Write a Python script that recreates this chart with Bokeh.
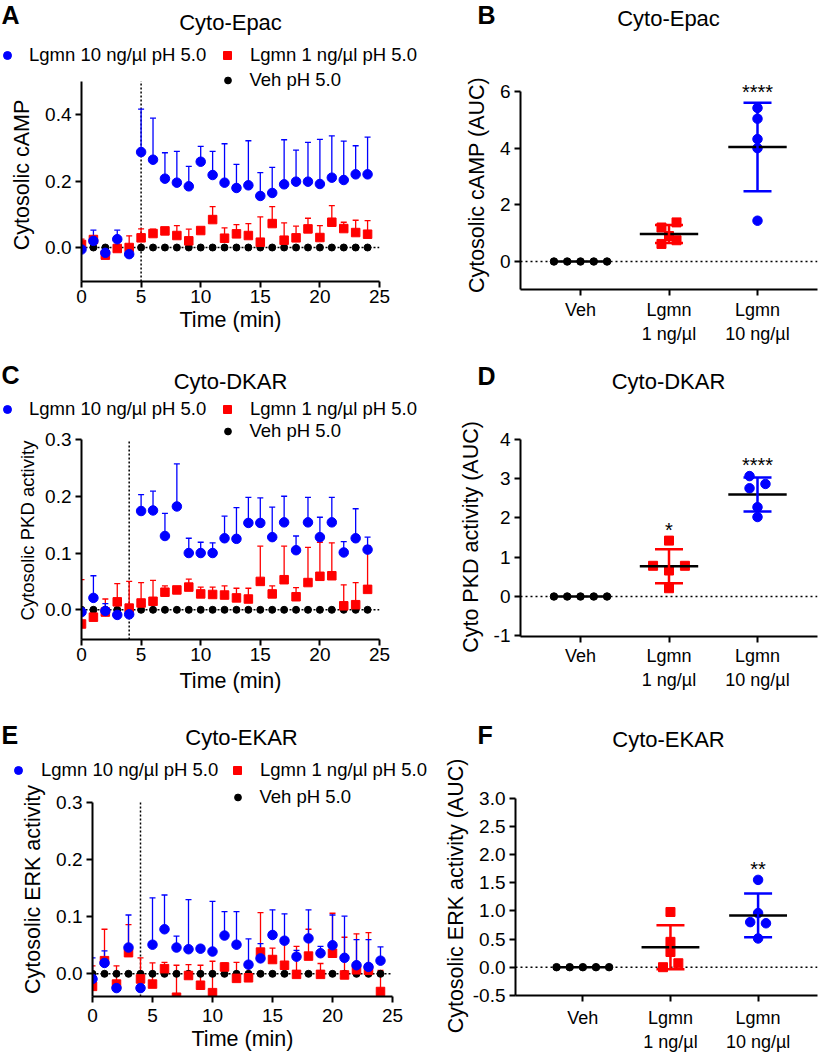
import numpy as np
from bokeh.plotting import figure
from bokeh.models import (ColumnDataSource, Whisker, TeeHead, Span, Label, Legend,
                          LegendItem, FixedTicker, PrintfTickFormatter, Range1d)
from bokeh.core.properties import value
from bokeh.layouts import column, row
from bokeh.embed import file_html
from bokeh.resources import INLINE

FONT = "Liberation Sans"
BLUE = "#0000ff"
RED = "#ff0000"
BLACK = "#000000"

# ---------------- data: time courses ----------------
TIME_MIN = [0, 1, 2, 3, 4, 5, 6, 7, 8, 9, 10, 11, 12, 13, 14, 15, 16, 17, 18, 19, 20, 21, 22, 23, 24]
VEH_TIME = [0.0, 0.0, 0.0, 0.0, 0.0, 0.0, 0.0, 0.0, 0.0, 0.0, 0.0, 0.0, 0.0,
            0.0, 0.0, 0.0, 0.0, 0.0, 0.0, 0.0, 0.0, 0.0, 0.0, 0.0, 0.0]

EPAC_10 = [-0.006, 0.020, -0.016, 0.025, -0.020, 0.287, 0.264, 0.207, 0.195, 0.184, 0.258, 0.218, 0.195,
           0.179, 0.187, 0.155, 0.164, 0.190, 0.198, 0.198, 0.191, 0.210, 0.203, 0.220, 0.220]
EPAC_10_UP = [0.000, 0.052, -0.010, 0.052, -0.012, 0.416, 0.389, 0.285, 0.289, 0.244, 0.304, 0.289, 0.312,
              0.250, 0.321, 0.225, 0.241, 0.324, 0.293, 0.316, 0.325, 0.336, 0.320, 0.306, 0.332]
EPAC_1 = [0.009, 0.024, -0.023, -0.003, 0.000, 0.029, 0.042, 0.050, 0.036, 0.020, 0.051, 0.084, 0.028,
          0.041, 0.036, 0.016, 0.072, 0.022, 0.029, 0.056, 0.030, 0.076, 0.057, 0.045, 0.040]
EPAC_1_UP = [0.025, 0.030, -0.015, 0.003, 0.035, 0.056, 0.055, 0.055, 0.066, 0.055, 0.055, 0.123, 0.059,
             0.069, 0.072, 0.092, 0.123, 0.074, 0.064, 0.088, 0.066, 0.126, 0.076, 0.082, 0.081]

DKAR_10 = [-0.004, 0.021, -0.002, -0.009, -0.008, 0.174, 0.175, 0.130, 0.182, 0.100, 0.100, 0.100, 0.126,
           0.125, 0.153, 0.153, 0.128, 0.154, 0.105, 0.154, 0.128, 0.154, 0.101, 0.126, 0.106]
DKAR_10_UP = [0.000, 0.060, 0.011, -0.004, -0.004, 0.203, 0.209, 0.170, 0.257, 0.126, 0.119, 0.118, 0.165,
              0.180, 0.198, 0.197, 0.181, 0.200, 0.130, 0.198, 0.163, 0.198, 0.120, 0.178, 0.128]
DKAR_1 = [-0.025, -0.013, -0.004, 0.014, 0.003, 0.012, 0.015, 0.031, 0.035, 0.040, 0.028, 0.027, 0.026,
          0.021, 0.019, 0.050, 0.028, 0.053, 0.023, 0.048, 0.059, 0.060, 0.007, 0.009, 0.036]
DKAR_1_UP = [0.053, -0.005, 0.019, 0.046, 0.050, 0.048, 0.052, 0.042, 0.040, 0.054, 0.040, 0.040, 0.042,
             0.038, 0.038, 0.112, 0.042, 0.112, 0.039, 0.110, 0.119, 0.118, 0.044, 0.048, 0.113]

EKAR_10 = [-0.009, 0.019, -0.025, 0.046, -0.025, 0.051, 0.078, 0.046, 0.043, 0.044, 0.039, 0.067, 0.051,
           0.016, 0.027, 0.068, 0.058, 0.030, 0.062, 0.036, 0.050, 0.028, 0.015, 0.012, 0.023]
EKAR_10_UP = [0.028, 0.040, -0.018, 0.103, -0.018, 0.133, 0.138, 0.066, 0.130, 0.048, 0.127, 0.109, 0.109,
              0.061, 0.053, 0.112, 0.105, 0.041, 0.112, 0.048, 0.103, 0.101, 0.060, 0.060, 0.047]
EKAR_1 = [-0.022, 0.023, -0.018, 0.037, -0.009, -0.018, 0.009, -0.041, -0.003, -0.020, -0.033, 0.012, -0.008,
          -0.007, 0.038, 0.025, 0.015, -0.001, 0.031, -0.001, 0.036, -0.002, 0.007, 0.006, -0.031]
EKAR_1_UP = [0.014, 0.078, 0.014, 0.086, 0.028, 0.019, 0.020, 0.015, 0.016, 0.015, 0.022, 0.019, 0.020,
             0.018, 0.107, 0.045, 0.053, 0.048, 0.078, 0.018, 0.106, 0.064, 0.070, 0.072, 0.006]

# ---------------- data: AUC ----------------
GROUP_POS = [1, 2, 3]
GROUP_LABELS = ["Veh", "Lgmn\n1 ng/µl", "Lgmn\n10 ng/µl"]
VEH_AUC = [0.0, 0.0, 0.0, 0.0, 0.0]
VEH_JIT = [-0.3, -0.15, 0.0, 0.15, 0.3]

EPAC_AUC_1 = [1.20, 1.38, 0.62, 0.75, 0.90]
EPAC_AUC_1_JIT = [-0.085, 0.085, -0.085, 0.085, 0.0]
EPAC_AUC_10 = [5.42, 5.04, 4.32, 4.00, 1.44]
EPAC_AUC_10_JIT = [0.0, 0.0, 0.0, 0.0, 0.0]
EPAC_SIG = ["", "", "****"]

DKAR_AUC_1 = [1.42, 0.78, 0.78, 0.66, 0.21]
DKAR_AUC_1_JIT = [0.0, -0.18, 0.18, 0.0, 0.0]
DKAR_AUC_10 = [3.06, 2.75, 2.86, 2.27, 2.02]
DKAR_AUC_10_JIT = [-0.09, -0.09, 0.09, 0.0, 0.0]
DKAR_SIG = ["", "*", "****"]

EKAR_AUC_1 = [0.98, 0.45, 0.27, 0.00, 0.07]
EKAR_AUC_1_JIT = [0.0, 0.0, 0.0, -0.085, 0.09]
EKAR_AUC_10 = [1.55, 0.96, 0.80, 0.78, 0.51]
EKAR_AUC_10_JIT = [0.0, 0.0, -0.09, 0.09, 0.0]
EKAR_SIG = ["", "", "**"]

LEG_10 = "Lgmn 10 ng/µl pH 5.0"
LEG_1 = "Lgmn 1 ng/µl pH 5.0"
LEG_VEH = "Veh pH 5.0"

# ---------------- layout geometry (page px) ----------------
# Ft/Fb = frame top/bottom, p0 = pixel of value 0, ppu = pixels per unit, ytop = top of y axis line
LW, RW = 440, 379
PA = dict(ox=0, oy=68, W=LW, H=284, L=81, R=379, Ft=68, Fb=281, p0=247.0, ppu=332.5, ytop=0.5)
PC = dict(ox=0, oy=421, W=LW, H=284, L=81, R=379, Ft=421, Fb=639, p0=609.3, ppu=567.7, ytop=0.3)
PE = dict(ox=0, oy=782, W=LW, H=274, L=92, R=392, Ft=782, Fb=996, p0=973.3, ppu=571.0, ytop=0.3)
PB = dict(ox=LW, oy=40, W=RW, H=312, L=520, R=817, Ft=80, Fb=289, p0=261.0, ppu=28.33, ytop=6.0)
PD = dict(ox=LW, oy=402, W=RW, H=303, L=520, R=817, Ft=437, Fb=636, p0=596.0, ppu=39.35, ytop=4.0)
PF = dict(ox=LW, oy=757, W=RW, H=299, L=512, R=817, Ft=796, Fb=995, p0=966.7, ppu=56.33, ytop=3.0)
HA = dict(ox=0, oy=0, W=LW, H=68)
HC = dict(ox=0, oy=352, W=LW, H=69)
HE = dict(ox=0, oy=705, W=LW, H=77)
HB = dict(ox=LW, oy=0, W=RW, H=40)
HD = dict(ox=LW, oy=352, W=RW, H=50)
HF = dict(ox=LW, oy=705, W=RW, H=52)
BASELINE_FIX = 8  # Bokeh draws alphabetic-baseline labels a few px lower than requested


def make_fig(g, x_range):
    y0 = (g["p0"] - g["Fb"]) / g["ppu"]
    y1 = (g["p0"] - g["Ft"]) / g["ppu"]
    p = figure(width=g["W"], height=g["H"], x_range=x_range, y_range=Range1d(y0, y1),
               output_backend="svg", toolbar_location=None,
               min_border_left=g["L"] - g["ox"], min_border_right=g["ox"] + g["W"] - g["R"],
               min_border_top=g["Ft"] - g["oy"], min_border_bottom=g["oy"] + g["H"] - g["Fb"])
    p.outline_line_color = None
    p.xgrid.visible = False
    p.ygrid.visible = False
    for ax in p.axis:
        ax.axis_line_width = 2
        ax.axis_line_color = BLACK
        ax.major_tick_line_width = 2
        ax.major_tick_line_color = BLACK
        ax.major_tick_out = 6
        ax.major_tick_in = 0
        ax.minor_tick_line_color = None
        ax.major_label_text_font = FONT
        ax.major_label_text_font_size = "19px"
        ax.major_label_text_color = BLACK
        ax.axis_label_text_font = FONT
        ax.axis_label_text_font_style = "normal"
        ax.axis_label_text_font_size = "21.5px"
        ax.axis_label_text_color = BLACK
    p.yaxis.bounds = (y0, g["ytop"])
    return p, y0


def legend_item(p, renderer, label, gx, tx, cy, frame_left, frame_bottom, gw=20):
    standoff = int(round(tx - gx - gw / 2))
    lg = Legend(items=[LegendItem(label=value(label), renderers=[renderer])],
                location=(gx - gw / 2 - frame_left, frame_bottom - cy - 12),
                orientation="horizontal", glyph_width=gw, glyph_height=24, label_height=24,
                label_standoff=standoff, padding=0, margin=0, spacing=0,
                border_line_color=None, background_fill_alpha=0, inactive_fill_alpha=0,
                label_text_font=FONT, label_text_font_size="18.5px", label_text_color=BLACK)
    p.add_layout(lg)


def header(h, texts, legs=None, series=None):
    ox, oy, W, H = h["ox"], h["oy"], h["W"], h["H"]
    p = figure(width=W, height=H, x_range=Range1d(ox, ox + W), y_range=Range1d(oy + H, oy),
               output_backend="svg", toolbar_location=None, title=None,
               x_axis_location=None, y_axis_location=None,
               min_border_left=0, min_border_right=0, min_border_top=0, min_border_bottom=0)
    p.outline_line_color = None
    p.grid.visible = False
    for (t, x, y, size, bold, align) in texts:
        p.add_layout(Label(x=x, y=y - BASELINE_FIX, text=t, text_font=FONT, text_font_size=size,
                           text_font_style="bold" if bold else "normal", text_align=align,
                           text_baseline="alphabetic", text_color=BLACK))
    if legs is not None:
        blue, red = series
        # legend-only renderers (hidden; the visible series live in the panel below)
        rb = p.scatter(TIME_MIN, blue, marker="circle", size=9, color=BLUE, visible=False)
        rr = p.scatter(TIME_MIN, red, marker="square", size=8, color=RED, visible=False)
        (bx, btx, rx, rtx, cy) = legs
        legend_item(p, rb, LEG_10, bx, btx, cy, ox, oy + H)
        legend_item(p, rr, LEG_1, rx, rtx, cy, ox, oy + H)
    return p


def time_panel(g, yticks, ylabel, ylabel_size, ylabel_standoff, vline, blue, blue_up, red, red_up,
               veh_leg, tick_standoff, label_standoff):
    p, y0 = make_fig(g, Range1d(0, 25))
    p.xaxis.ticker = FixedTicker(ticks=[0, 5, 10, 15, 20, 25])
    p.yaxis.ticker = FixedTicker(ticks=yticks)
    p.yaxis.formatter = PrintfTickFormatter(format="%.1f")
    p.xaxis.axis_label = "Time (min)"
    p.yaxis.axis_label = ylabel
    p.yaxis.axis_label_text_font_size = ylabel_size
    p.xaxis.major_label_standoff = tick_standoff
    p.xaxis.axis_label_standoff = label_standoff
    p.yaxis.major_label_standoff = 4
    p.yaxis.axis_label_standoff = ylabel_standoff

    p.add_layout(Span(location=0, dimension="width", line_dash="2 2", line_width=1.5,
                      line_color=BLACK, level="underlay"))
    p.segment(x0=[vline], x1=[vline], y0=[y0], y1=[g["ytop"]], line_dash="2 2",
              line_width=1.5, line_color=BLACK, level="underlay")

    sb = ColumnDataSource(dict(x=TIME_MIN, y=blue, up=blue_up))
    sr = ColumnDataSource(dict(x=TIME_MIN, y=red, up=red_up))
    sv = ColumnDataSource(dict(x=TIME_MIN, y=VEH_TIME))
    for src, c in ((sr, RED), (sb, BLUE)):
        p.add_layout(Whisker(source=src, base="x", lower="y", upper="up", dimension="height",
                             line_color=c, line_width=1.3, lower_head=None,
                             upper_head=TeeHead(size=6, line_color=c, line_width=1.3),
                             level="underlay"))
    rv = p.scatter("x", "y", source=sv, marker="circle", size=7, color=BLACK)
    p.scatter("x", "y", source=sr, marker="square", size=8.5, color=RED)
    p.scatter("x", "y", source=sb, marker="circle", size=9.5, color=BLUE)

    gx, tx, cy = veh_leg
    legend_item(p, rv, LEG_VEH, gx, tx, cy, g["L"], g["Fb"], gw=17)
    return p


def auc_panel(g, yticks, fmt, ylabel, ylabel_standoff, d1, j1, d10, j10, sig, x_standoff):
    xr0 = 1 - (580 - g["L"]) / 88.5
    xr1 = 3 + (g["R"] - 757) / 88.5
    p, y0 = make_fig(g, Range1d(xr0, xr1))
    p.xaxis.ticker = FixedTicker(ticks=GROUP_POS)
    p.xaxis.major_label_overrides = {pos: lab for pos, lab in zip(GROUP_POS, GROUP_LABELS)}
    p.xaxis.major_label_text_font_size = "18px"
    p.xaxis.major_label_standoff = x_standoff
    p.yaxis.ticker = FixedTicker(ticks=yticks)
    p.yaxis.formatter = PrintfTickFormatter(format=fmt)
    p.yaxis.axis_label = ylabel
    p.yaxis.major_label_standoff = 4
    p.yaxis.axis_label_standoff = ylabel_standoff

    p.add_layout(Span(location=0, dimension="width", line_dash="2 3", line_width=1.5,
                      line_color=BLACK, level="underlay"))

    groups = [VEH_AUC, d1, d10]
    jits = [VEH_JIT, j1, j10]
    colors = [BLACK, RED, BLUE]
    markers = ["circle", "square", "circle"]
    sizes = [7.5, 9, 9.5]
    for pos, vals, jit, c, m, s, st in zip(GROUP_POS, groups, jits, colors, markers, sizes, sig):
        xs = [pos + j for j in jit]
        mean = float(np.mean(vals))
        sd = float(np.std(vals, ddof=1))
        p.scatter(xs, vals, marker=m, size=s, color=c)
        if sd > 0:
            ws = ColumnDataSource(dict(x=[pos], lo=[mean - sd], hi=[mean + sd]))
            p.add_layout(Whisker(source=ws, base="x", lower="lo", upper="hi", dimension="height",
                                 line_color=c, line_width=2.5,
                                 upper_head=TeeHead(size=28, line_color=c, line_width=2.5),
                                 lower_head=TeeHead(size=28, line_color=c, line_width=2.5),
                                 level="annotation"))
        p.segment(x0=[pos - 0.33], x1=[pos + 0.33], y0=[mean], y1=[mean],
                  line_color=BLACK, line_width=2.5)
        if st:
            top = max(max(vals), mean + sd)
            p.add_layout(Label(x=pos, y=top, y_offset=11, text=st, text_font=FONT,
                               text_font_size="20px", text_align="center",
                               text_baseline="alphabetic", text_color=BLACK))
    return p


hA = header(HA, [("A", 1, 22, "25px", True, "left"),
                 ("Cyto-Epac", 230, 30, "22px", False, "center")],
            (7, 29, 227, 250, 55), (EPAC_10, EPAC_1))
hB = header(HB, [("B", 477, 22, "25px", True, "left"),
                 ("Cyto-Epac", 668, 26, "22px", False, "center")])
hC = header(HC, [("C", 1, 382, "25px", True, "left"),
                 ("Cyto-DKAR", 230, 389, "22px", False, "center")],
            (7, 29, 227, 250, 409), (DKAR_10, DKAR_1))
hD = header(HD, [("D", 477, 383, "25px", True, "left"),
                 ("Cyto-DKAR", 668, 389, "22px", False, "center")])
hE = header(HE, [("E", 1, 742, "25px", True, "left"),
                 ("Cyto-EKAR", 241, 745, "22px", False, "center")],
            (18, 41, 237, 260, 770), (EKAR_10, EKAR_1))
hF = header(HF, [("F", 477, 742, "25px", True, "left"),
                 ("Cyto-EKAR", 668, 747, "22px", False, "center")])

pA = time_panel(PA, [0.0, 0.2, 0.4], "Cytosolic cAMP", "21.5px", 8, 5,
                EPAC_10, EPAC_10_UP, EPAC_1, EPAC_1_UP, (227, 250, 80), 2, 2)
pC = time_panel(PC, [0.0, 0.1, 0.2, 0.3], "Cytosolic PKD activity", "18.5px", 4, 4,
                DKAR_10, DKAR_10_UP, DKAR_1, DKAR_1_UP, (227, 250, 431), 2, 5)
pE = time_panel(PE, [0.0, 0.1, 0.2, 0.3], "Cytosolic ERK activity", "21.5px", 8, 4,
                EKAR_10, EKAR_10_UP, EKAR_1, EKAR_1_UP, (237, 260, 797), 6, 2)
pB = auc_panel(PB, [0, 2, 4, 6], "%d", "Cytosolic cAMP (AUC)", 8,
               EPAC_AUC_1, EPAC_AUC_1_JIT, EPAC_AUC_10, EPAC_AUC_10_JIT, EPAC_SIG, 4)
pD = auc_panel(PD, [-1, 0, 1, 2, 3, 4], "%d", "Cyto PKD activity (AUC)", 8,
               DKAR_AUC_1, DKAR_AUC_1_JIT, DKAR_AUC_10, DKAR_AUC_10_JIT, DKAR_SIG, 3)
pF = auc_panel(PF, [-0.5, 0.0, 0.5, 1.0, 1.5, 2.0, 2.5, 3.0], "%.1f",
               "Cytosolic ERK activity (AUC)", 2,
               EKAR_AUC_1, EKAR_AUC_1_JIT, EKAR_AUC_10, EKAR_AUC_10_JIT, EKAR_SIG, 6)

# each figure is wrapped in its own row so that Bokeh does not align their frames
left = column(*[row(f) for f in (hA, pA, hC, pC, hE, pE)])
right = column(*[row(f) for f in (hB, pB, hD, pD, hF, pF)])
layout = row(left, right)
open("out.html", "w").write(file_html(layout, INLINE))
